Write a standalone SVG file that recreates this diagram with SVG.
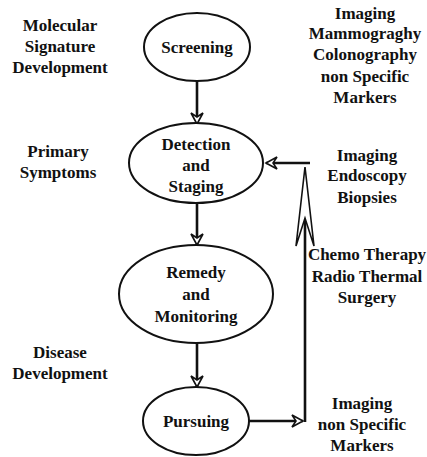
<svg xmlns="http://www.w3.org/2000/svg" width="427" height="457" viewBox="0 0 427 457">
<style>
text{font-family:"Liberation Serif","Times New Roman",serif;font-weight:bold;font-size:17px;fill:#111;text-anchor:middle}
.node ellipse{fill:#fff;stroke:#111;stroke-width:2}
.conn{fill:none;stroke:#111;stroke-width:2.6}
.head{fill:#fff;stroke:#111;stroke-width:1.6;stroke-linejoin:miter}
</style>
<defs>
<marker id="arr" markerUnits="userSpaceOnUse" markerWidth="16" markerHeight="16" viewBox="-13 -8 15 16" refX="0" refY="0" orient="auto">
<path class="head" d="M0,0 L-11,-6 L-7,0 L-11,6 Z"/>
</marker>
</defs>
<rect width="427" height="457" fill="#fff"/>
<g id="labels">
<text x="60" y="31">Molecular</text>
<text x="60" y="52">Signature</text>
<text x="60" y="73">Development</text>
<text x="58" y="157">Primary</text>
<text x="58" y="178">Symptoms</text>
<text x="60" y="358">Disease</text>
<text x="60" y="379">Development</text>
<text x="365" y="19">Imaging</text>
<text x="365" y="39">Mammograghy</text>
<text x="365" y="60">Colonography</text>
<text x="365" y="82">non Specific</text>
<text x="365" y="103">Markers</text>
<text x="367" y="161">Imaging</text>
<text x="367" y="181">Endoscopy</text>
<text x="367" y="203">Biopsies</text>
<text x="367" y="260">Chemo Therapy</text>
<text x="367" y="282">Radio Thermal</text>
<text x="367" y="303">Surgery</text>
<text x="362" y="409">Imaging</text>
<text x="362" y="430">non Specific</text>
<text x="362" y="451">Markers</text>
</g>
<g id="connectors">
<line class="conn" x1="197" y1="81" x2="197" y2="124" marker-end="url(#arr)"/>
<line class="conn" x1="197" y1="203" x2="197" y2="245" marker-end="url(#arr)"/>
<line class="conn" x1="197" y1="343" x2="197" y2="387" marker-end="url(#arr)"/>
<line class="conn" x1="249" y1="421" x2="303" y2="421" marker-end="url(#arr)"/>
<line class="conn" x1="305" y1="422" x2="305" y2="218"/>
<path class="head" d="M305,167 L296,246 L305,218 L314,246 Z"/>
<line class="conn" x1="310" y1="163" x2="266" y2="163" marker-end="url(#arr)"/>
</g>
<g id="screening" class="node">
<ellipse cx="197" cy="47" rx="53" ry="34"/>
<text x="197" y="53">Screening</text>
</g>
<g id="detection" class="node">
<ellipse cx="196" cy="163" rx="67" ry="40"/>
<text x="196" y="150">Detection</text>
<text x="196" y="171">and</text>
<text x="196" y="192">Staging</text>
</g>
<g id="remedy" class="node">
<ellipse cx="196" cy="294" rx="77" ry="49"/>
<text x="196" y="278">Remedy</text>
<text x="196" y="300">and</text>
<text x="196" y="322">Monitoring</text>
</g>
<g id="pursuing" class="node">
<ellipse cx="196" cy="421" rx="53" ry="34"/>
<text x="196" y="427">Pursuing</text>
</g>
</svg>
